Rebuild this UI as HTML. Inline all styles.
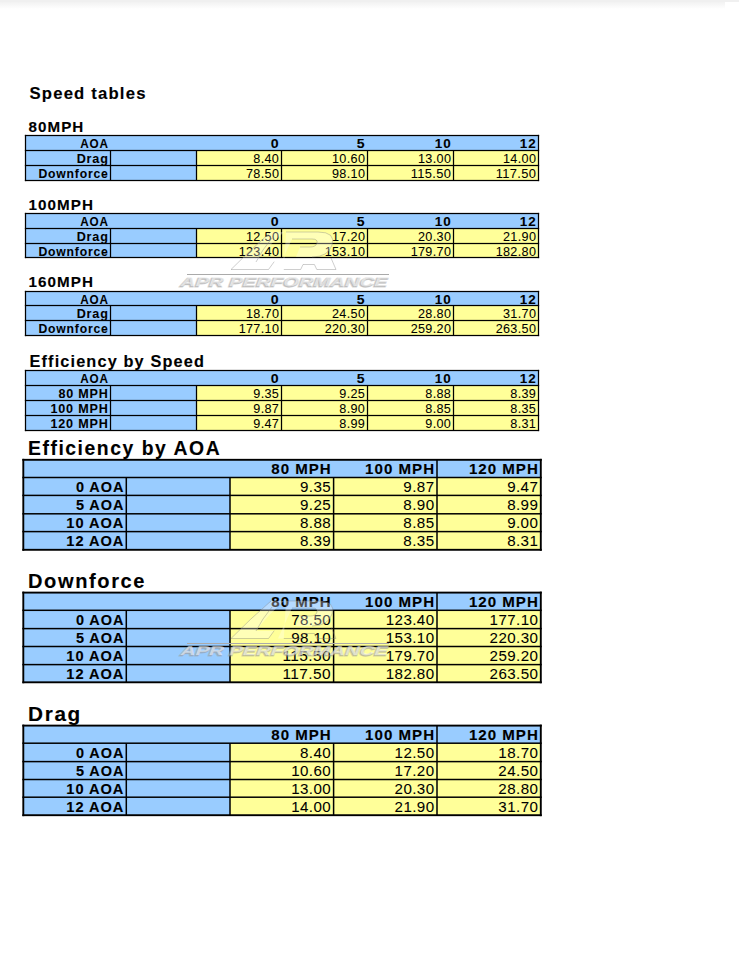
<!DOCTYPE html>
<html><head><meta charset="utf-8"><title>Speed tables</title>
<style>
html,body{margin:0;padding:0;background:#fff;}
body{width:747px;height:957px;overflow:hidden;position:relative;}
#top{position:absolute;left:0;top:2px;width:725px;height:7px;background:linear-gradient(#f2f2f2,#fff);}
#band{position:absolute;left:0;top:0;width:739px;height:2px;background:#f0f0f0;}
svg{position:absolute;left:0;top:0;}
text{font-family:"Liberation Sans",sans-serif;}
</style></head><body>
<div id="band"></div><div id="top"></div>
<svg width="747" height="957" viewBox="0 0 747 957">
<text x="29.50" y="99.40" font-size="15.80" font-weight="bold" letter-spacing="1.11" text-anchor="start" textLength="117.10" lengthAdjust="spacingAndGlyphs" fill="#000" stroke="#000" stroke-width="0.12">Speed tables</text>
<text x="28.60" y="131.60" font-size="14.27" font-weight="bold" letter-spacing="0.97" text-anchor="start" textLength="55.77" lengthAdjust="spacingAndGlyphs" fill="#000" stroke="#000" stroke-width="0.12">80MPH</text>
<text x="28.60" y="209.70" font-size="14.27" font-weight="bold" letter-spacing="0.97" text-anchor="start" textLength="65.40" lengthAdjust="spacingAndGlyphs" fill="#000" stroke="#000" stroke-width="0.12">100MPH</text>
<text x="28.60" y="286.70" font-size="14.27" font-weight="bold" letter-spacing="0.97" text-anchor="start" textLength="65.40" lengthAdjust="spacingAndGlyphs" fill="#000" stroke="#000" stroke-width="0.12">160MPH</text>
<text x="29.50" y="366.60" font-size="15.80" font-weight="bold" letter-spacing="1.11" text-anchor="start" textLength="175.52" lengthAdjust="spacingAndGlyphs" fill="#000" stroke="#000" stroke-width="0.12">Efficiency by Speed</text>
<text x="28.00" y="454.80" font-size="19.30" font-weight="bold" letter-spacing="1.54" text-anchor="start" textLength="193.16" lengthAdjust="spacingAndGlyphs" fill="#000" stroke="#000" stroke-width="0.12">Efficiency by AOA</text>
<text x="28.00" y="587.90" font-size="19.30" font-weight="bold" letter-spacing="1.54" text-anchor="start" textLength="118.10" lengthAdjust="spacingAndGlyphs" fill="#000" stroke="#000" stroke-width="0.12">Downforce</text>
<text x="28.00" y="720.60" font-size="19.30" font-weight="bold" letter-spacing="1.54" text-anchor="start" textLength="53.92" lengthAdjust="spacingAndGlyphs" fill="#000" stroke="#000" stroke-width="0.12">Drag</text>
<rect x="25.50" y="135.50" width="513.00" height="45.00" fill="#99ccff"/>
<rect x="196.50" y="150.50" width="342.00" height="30.00" fill="#ffff99"/>
<rect x="24.88" y="134.88" width="514.25" height="1.25" fill="#000"/>
<rect x="24.88" y="149.88" width="514.25" height="1.25" fill="#000"/>
<rect x="24.88" y="164.88" width="514.25" height="1.25" fill="#000"/>
<rect x="24.88" y="179.88" width="514.25" height="1.25" fill="#000"/>
<rect x="24.88" y="134.88" width="1.25" height="46.25" fill="#000"/>
<rect x="109.88" y="150.50" width="1.25" height="30.00" fill="#000"/>
<rect x="195.88" y="150.50" width="1.25" height="30.00" fill="#000"/>
<rect x="280.88" y="150.50" width="1.25" height="30.00" fill="#000"/>
<rect x="366.88" y="150.50" width="1.25" height="30.00" fill="#000"/>
<rect x="452.88" y="150.50" width="1.25" height="30.00" fill="#000"/>
<rect x="537.88" y="134.88" width="1.25" height="46.25" fill="#000"/>
<text x="108.71" y="147.80" font-size="12.19" font-weight="bold" letter-spacing="0.81" text-anchor="end" textLength="28.38" lengthAdjust="spacingAndGlyphs" fill="#000" stroke="#000" stroke-width="0.05">AOA</text>
<text x="279.70" y="147.80" font-size="12.19" font-weight="bold" letter-spacing="0.81" text-anchor="end" textLength="8.81" lengthAdjust="spacingAndGlyphs" fill="#000" stroke="#000" stroke-width="0.05">0</text>
<text x="365.70" y="147.80" font-size="12.19" font-weight="bold" letter-spacing="0.81" text-anchor="end" textLength="8.81" lengthAdjust="spacingAndGlyphs" fill="#000" stroke="#000" stroke-width="0.05">5</text>
<text x="451.70" y="147.80" font-size="12.19" font-weight="bold" letter-spacing="0.81" text-anchor="end" textLength="16.81" lengthAdjust="spacingAndGlyphs" fill="#000" stroke="#000" stroke-width="0.05">10</text>
<text x="536.70" y="147.80" font-size="12.19" font-weight="bold" letter-spacing="0.81" text-anchor="end" textLength="16.81" lengthAdjust="spacingAndGlyphs" fill="#000" stroke="#000" stroke-width="0.05">12</text>
<text x="108.71" y="162.80" font-size="12.19" font-weight="bold" letter-spacing="0.81" text-anchor="end" textLength="32.01" lengthAdjust="spacingAndGlyphs" fill="#000" stroke="#000" stroke-width="0.05">Drag</text>
<text x="279.25" y="162.80" font-size="12.42" letter-spacing="0.34" text-anchor="end" textLength="25.95" lengthAdjust="spacingAndGlyphs" fill="#000" stroke="#000" stroke-width="0.05">8.40</text>
<text x="365.25" y="162.80" font-size="12.42" letter-spacing="0.34" text-anchor="end" textLength="33.27" lengthAdjust="spacingAndGlyphs" fill="#000" stroke="#000" stroke-width="0.05">10.60</text>
<text x="451.25" y="162.80" font-size="12.42" letter-spacing="0.34" text-anchor="end" textLength="33.27" lengthAdjust="spacingAndGlyphs" fill="#000" stroke="#000" stroke-width="0.05">13.00</text>
<text x="536.25" y="162.80" font-size="12.42" letter-spacing="0.34" text-anchor="end" textLength="33.27" lengthAdjust="spacingAndGlyphs" fill="#000" stroke="#000" stroke-width="0.05">14.00</text>
<text x="108.71" y="177.80" font-size="12.19" font-weight="bold" letter-spacing="0.81" text-anchor="end" textLength="70.25" lengthAdjust="spacingAndGlyphs" fill="#000" stroke="#000" stroke-width="0.05">Downforce</text>
<text x="279.25" y="177.80" font-size="12.42" letter-spacing="0.34" text-anchor="end" textLength="33.27" lengthAdjust="spacingAndGlyphs" fill="#000" stroke="#000" stroke-width="0.05">78.50</text>
<text x="365.25" y="177.80" font-size="12.42" letter-spacing="0.34" text-anchor="end" textLength="33.27" lengthAdjust="spacingAndGlyphs" fill="#000" stroke="#000" stroke-width="0.05">98.10</text>
<text x="451.25" y="177.80" font-size="12.42" letter-spacing="0.34" text-anchor="end" textLength="40.58" lengthAdjust="spacingAndGlyphs" fill="#000" stroke="#000" stroke-width="0.05">115.50</text>
<text x="536.25" y="177.80" font-size="12.42" letter-spacing="0.34" text-anchor="end" textLength="40.58" lengthAdjust="spacingAndGlyphs" fill="#000" stroke="#000" stroke-width="0.05">117.50</text>
<rect x="25.50" y="213.50" width="513.00" height="44.00" fill="#99ccff"/>
<rect x="196.50" y="228.50" width="342.00" height="29.00" fill="#ffff99"/>
<rect x="24.88" y="212.88" width="514.25" height="1.25" fill="#000"/>
<rect x="24.88" y="227.88" width="514.25" height="1.25" fill="#000"/>
<rect x="24.88" y="242.88" width="514.25" height="1.25" fill="#000"/>
<rect x="24.88" y="256.88" width="514.25" height="1.25" fill="#000"/>
<rect x="24.88" y="212.88" width="1.25" height="45.25" fill="#000"/>
<rect x="109.88" y="228.50" width="1.25" height="29.00" fill="#000"/>
<rect x="195.88" y="228.50" width="1.25" height="29.00" fill="#000"/>
<rect x="280.88" y="228.50" width="1.25" height="29.00" fill="#000"/>
<rect x="366.88" y="228.50" width="1.25" height="29.00" fill="#000"/>
<rect x="452.88" y="228.50" width="1.25" height="29.00" fill="#000"/>
<rect x="537.88" y="212.88" width="1.25" height="45.25" fill="#000"/>
<text x="108.71" y="225.80" font-size="12.19" font-weight="bold" letter-spacing="0.81" text-anchor="end" textLength="28.38" lengthAdjust="spacingAndGlyphs" fill="#000" stroke="#000" stroke-width="0.05">AOA</text>
<text x="279.70" y="225.80" font-size="12.19" font-weight="bold" letter-spacing="0.81" text-anchor="end" textLength="8.81" lengthAdjust="spacingAndGlyphs" fill="#000" stroke="#000" stroke-width="0.05">0</text>
<text x="365.70" y="225.80" font-size="12.19" font-weight="bold" letter-spacing="0.81" text-anchor="end" textLength="8.81" lengthAdjust="spacingAndGlyphs" fill="#000" stroke="#000" stroke-width="0.05">5</text>
<text x="451.70" y="225.80" font-size="12.19" font-weight="bold" letter-spacing="0.81" text-anchor="end" textLength="16.81" lengthAdjust="spacingAndGlyphs" fill="#000" stroke="#000" stroke-width="0.05">10</text>
<text x="536.70" y="225.80" font-size="12.19" font-weight="bold" letter-spacing="0.81" text-anchor="end" textLength="16.81" lengthAdjust="spacingAndGlyphs" fill="#000" stroke="#000" stroke-width="0.05">12</text>
<text x="108.71" y="240.80" font-size="12.19" font-weight="bold" letter-spacing="0.81" text-anchor="end" textLength="32.01" lengthAdjust="spacingAndGlyphs" fill="#000" stroke="#000" stroke-width="0.05">Drag</text>
<text x="279.25" y="240.80" font-size="12.42" letter-spacing="0.34" text-anchor="end" textLength="33.27" lengthAdjust="spacingAndGlyphs" fill="#000" stroke="#000" stroke-width="0.05">12.50</text>
<text x="365.25" y="240.80" font-size="12.42" letter-spacing="0.34" text-anchor="end" textLength="33.27" lengthAdjust="spacingAndGlyphs" fill="#000" stroke="#000" stroke-width="0.05">17.20</text>
<text x="451.25" y="240.80" font-size="12.42" letter-spacing="0.34" text-anchor="end" textLength="33.27" lengthAdjust="spacingAndGlyphs" fill="#000" stroke="#000" stroke-width="0.05">20.30</text>
<text x="536.25" y="240.80" font-size="12.42" letter-spacing="0.34" text-anchor="end" textLength="33.27" lengthAdjust="spacingAndGlyphs" fill="#000" stroke="#000" stroke-width="0.05">21.90</text>
<text x="108.71" y="255.80" font-size="12.19" font-weight="bold" letter-spacing="0.81" text-anchor="end" textLength="70.25" lengthAdjust="spacingAndGlyphs" fill="#000" stroke="#000" stroke-width="0.05">Downforce</text>
<text x="279.25" y="255.80" font-size="12.42" letter-spacing="0.34" text-anchor="end" textLength="40.58" lengthAdjust="spacingAndGlyphs" fill="#000" stroke="#000" stroke-width="0.05">123.40</text>
<text x="365.25" y="255.80" font-size="12.42" letter-spacing="0.34" text-anchor="end" textLength="40.58" lengthAdjust="spacingAndGlyphs" fill="#000" stroke="#000" stroke-width="0.05">153.10</text>
<text x="451.25" y="255.80" font-size="12.42" letter-spacing="0.34" text-anchor="end" textLength="40.58" lengthAdjust="spacingAndGlyphs" fill="#000" stroke="#000" stroke-width="0.05">179.70</text>
<text x="536.25" y="255.80" font-size="12.42" letter-spacing="0.34" text-anchor="end" textLength="40.58" lengthAdjust="spacingAndGlyphs" fill="#000" stroke="#000" stroke-width="0.05">182.80</text>
<rect x="25.50" y="291.50" width="513.00" height="44.00" fill="#99ccff"/>
<rect x="196.50" y="305.50" width="342.00" height="30.00" fill="#ffff99"/>
<rect x="24.88" y="290.88" width="514.25" height="1.25" fill="#000"/>
<rect x="24.88" y="304.88" width="514.25" height="1.25" fill="#000"/>
<rect x="24.88" y="319.88" width="514.25" height="1.25" fill="#000"/>
<rect x="24.88" y="334.88" width="514.25" height="1.25" fill="#000"/>
<rect x="24.88" y="290.88" width="1.25" height="45.25" fill="#000"/>
<rect x="109.88" y="305.50" width="1.25" height="30.00" fill="#000"/>
<rect x="195.88" y="305.50" width="1.25" height="30.00" fill="#000"/>
<rect x="280.88" y="305.50" width="1.25" height="30.00" fill="#000"/>
<rect x="366.88" y="305.50" width="1.25" height="30.00" fill="#000"/>
<rect x="452.88" y="305.50" width="1.25" height="30.00" fill="#000"/>
<rect x="537.88" y="290.88" width="1.25" height="45.25" fill="#000"/>
<text x="108.71" y="303.80" font-size="12.19" font-weight="bold" letter-spacing="0.81" text-anchor="end" textLength="28.38" lengthAdjust="spacingAndGlyphs" fill="#000" stroke="#000" stroke-width="0.05">AOA</text>
<text x="279.70" y="303.80" font-size="12.19" font-weight="bold" letter-spacing="0.81" text-anchor="end" textLength="8.81" lengthAdjust="spacingAndGlyphs" fill="#000" stroke="#000" stroke-width="0.05">0</text>
<text x="365.70" y="303.80" font-size="12.19" font-weight="bold" letter-spacing="0.81" text-anchor="end" textLength="8.81" lengthAdjust="spacingAndGlyphs" fill="#000" stroke="#000" stroke-width="0.05">5</text>
<text x="451.70" y="303.80" font-size="12.19" font-weight="bold" letter-spacing="0.81" text-anchor="end" textLength="16.81" lengthAdjust="spacingAndGlyphs" fill="#000" stroke="#000" stroke-width="0.05">10</text>
<text x="536.70" y="303.80" font-size="12.19" font-weight="bold" letter-spacing="0.81" text-anchor="end" textLength="16.81" lengthAdjust="spacingAndGlyphs" fill="#000" stroke="#000" stroke-width="0.05">12</text>
<text x="108.71" y="317.80" font-size="12.19" font-weight="bold" letter-spacing="0.81" text-anchor="end" textLength="32.01" lengthAdjust="spacingAndGlyphs" fill="#000" stroke="#000" stroke-width="0.05">Drag</text>
<text x="279.25" y="317.80" font-size="12.42" letter-spacing="0.34" text-anchor="end" textLength="33.27" lengthAdjust="spacingAndGlyphs" fill="#000" stroke="#000" stroke-width="0.05">18.70</text>
<text x="365.25" y="317.80" font-size="12.42" letter-spacing="0.34" text-anchor="end" textLength="33.27" lengthAdjust="spacingAndGlyphs" fill="#000" stroke="#000" stroke-width="0.05">24.50</text>
<text x="451.25" y="317.80" font-size="12.42" letter-spacing="0.34" text-anchor="end" textLength="33.27" lengthAdjust="spacingAndGlyphs" fill="#000" stroke="#000" stroke-width="0.05">28.80</text>
<text x="536.25" y="317.80" font-size="12.42" letter-spacing="0.34" text-anchor="end" textLength="33.27" lengthAdjust="spacingAndGlyphs" fill="#000" stroke="#000" stroke-width="0.05">31.70</text>
<text x="108.71" y="332.80" font-size="12.19" font-weight="bold" letter-spacing="0.81" text-anchor="end" textLength="70.25" lengthAdjust="spacingAndGlyphs" fill="#000" stroke="#000" stroke-width="0.05">Downforce</text>
<text x="279.25" y="332.80" font-size="12.42" letter-spacing="0.34" text-anchor="end" textLength="40.58" lengthAdjust="spacingAndGlyphs" fill="#000" stroke="#000" stroke-width="0.05">177.10</text>
<text x="365.25" y="332.80" font-size="12.42" letter-spacing="0.34" text-anchor="end" textLength="40.58" lengthAdjust="spacingAndGlyphs" fill="#000" stroke="#000" stroke-width="0.05">220.30</text>
<text x="451.25" y="332.80" font-size="12.42" letter-spacing="0.34" text-anchor="end" textLength="40.58" lengthAdjust="spacingAndGlyphs" fill="#000" stroke="#000" stroke-width="0.05">259.20</text>
<text x="536.25" y="332.80" font-size="12.42" letter-spacing="0.34" text-anchor="end" textLength="40.58" lengthAdjust="spacingAndGlyphs" fill="#000" stroke="#000" stroke-width="0.05">263.50</text>
<rect x="25.50" y="370.50" width="513.00" height="60.00" fill="#99ccff"/>
<rect x="196.50" y="385.50" width="342.00" height="45.00" fill="#ffff99"/>
<rect x="24.88" y="369.88" width="514.25" height="1.25" fill="#000"/>
<rect x="24.88" y="384.88" width="514.25" height="1.25" fill="#000"/>
<rect x="24.88" y="399.88" width="514.25" height="1.25" fill="#000"/>
<rect x="24.88" y="414.88" width="514.25" height="1.25" fill="#000"/>
<rect x="24.88" y="429.88" width="514.25" height="1.25" fill="#000"/>
<rect x="24.88" y="369.88" width="1.25" height="61.25" fill="#000"/>
<rect x="109.88" y="385.50" width="1.25" height="45.00" fill="#000"/>
<rect x="195.88" y="385.50" width="1.25" height="45.00" fill="#000"/>
<rect x="280.88" y="385.50" width="1.25" height="45.00" fill="#000"/>
<rect x="366.88" y="385.50" width="1.25" height="45.00" fill="#000"/>
<rect x="452.88" y="385.50" width="1.25" height="45.00" fill="#000"/>
<rect x="537.88" y="369.88" width="1.25" height="61.25" fill="#000"/>
<text x="108.71" y="382.80" font-size="12.19" font-weight="bold" letter-spacing="0.81" text-anchor="end" textLength="28.38" lengthAdjust="spacingAndGlyphs" fill="#000" stroke="#000" stroke-width="0.05">AOA</text>
<text x="279.70" y="382.80" font-size="12.19" font-weight="bold" letter-spacing="0.81" text-anchor="end" textLength="8.81" lengthAdjust="spacingAndGlyphs" fill="#000" stroke="#000" stroke-width="0.05">0</text>
<text x="365.70" y="382.80" font-size="12.19" font-weight="bold" letter-spacing="0.81" text-anchor="end" textLength="8.81" lengthAdjust="spacingAndGlyphs" fill="#000" stroke="#000" stroke-width="0.05">5</text>
<text x="451.70" y="382.80" font-size="12.19" font-weight="bold" letter-spacing="0.81" text-anchor="end" textLength="16.81" lengthAdjust="spacingAndGlyphs" fill="#000" stroke="#000" stroke-width="0.05">10</text>
<text x="536.70" y="382.80" font-size="12.19" font-weight="bold" letter-spacing="0.81" text-anchor="end" textLength="16.81" lengthAdjust="spacingAndGlyphs" fill="#000" stroke="#000" stroke-width="0.05">12</text>
<text x="108.71" y="397.80" font-size="12.19" font-weight="bold" letter-spacing="0.81" text-anchor="end" textLength="50.31" lengthAdjust="spacingAndGlyphs" fill="#000" stroke="#000" stroke-width="0.05">80 MPH</text>
<text x="279.25" y="397.80" font-size="12.42" letter-spacing="0.34" text-anchor="end" textLength="25.95" lengthAdjust="spacingAndGlyphs" fill="#000" stroke="#000" stroke-width="0.05">9.35</text>
<text x="365.25" y="397.80" font-size="12.42" letter-spacing="0.34" text-anchor="end" textLength="25.95" lengthAdjust="spacingAndGlyphs" fill="#000" stroke="#000" stroke-width="0.05">9.25</text>
<text x="451.25" y="397.80" font-size="12.42" letter-spacing="0.34" text-anchor="end" textLength="25.95" lengthAdjust="spacingAndGlyphs" fill="#000" stroke="#000" stroke-width="0.05">8.88</text>
<text x="536.25" y="397.80" font-size="12.42" letter-spacing="0.34" text-anchor="end" textLength="25.95" lengthAdjust="spacingAndGlyphs" fill="#000" stroke="#000" stroke-width="0.05">8.39</text>
<text x="108.71" y="412.80" font-size="12.19" font-weight="bold" letter-spacing="0.81" text-anchor="end" textLength="58.31" lengthAdjust="spacingAndGlyphs" fill="#000" stroke="#000" stroke-width="0.05">100 MPH</text>
<text x="279.25" y="412.80" font-size="12.42" letter-spacing="0.34" text-anchor="end" textLength="25.95" lengthAdjust="spacingAndGlyphs" fill="#000" stroke="#000" stroke-width="0.05">9.87</text>
<text x="365.25" y="412.80" font-size="12.42" letter-spacing="0.34" text-anchor="end" textLength="25.95" lengthAdjust="spacingAndGlyphs" fill="#000" stroke="#000" stroke-width="0.05">8.90</text>
<text x="451.25" y="412.80" font-size="12.42" letter-spacing="0.34" text-anchor="end" textLength="25.95" lengthAdjust="spacingAndGlyphs" fill="#000" stroke="#000" stroke-width="0.05">8.85</text>
<text x="536.25" y="412.80" font-size="12.42" letter-spacing="0.34" text-anchor="end" textLength="25.95" lengthAdjust="spacingAndGlyphs" fill="#000" stroke="#000" stroke-width="0.05">8.35</text>
<text x="108.71" y="427.80" font-size="12.19" font-weight="bold" letter-spacing="0.81" text-anchor="end" textLength="58.31" lengthAdjust="spacingAndGlyphs" fill="#000" stroke="#000" stroke-width="0.05">120 MPH</text>
<text x="279.25" y="427.80" font-size="12.42" letter-spacing="0.34" text-anchor="end" textLength="25.95" lengthAdjust="spacingAndGlyphs" fill="#000" stroke="#000" stroke-width="0.05">9.47</text>
<text x="365.25" y="427.80" font-size="12.42" letter-spacing="0.34" text-anchor="end" textLength="25.95" lengthAdjust="spacingAndGlyphs" fill="#000" stroke="#000" stroke-width="0.05">8.99</text>
<text x="451.25" y="427.80" font-size="12.42" letter-spacing="0.34" text-anchor="end" textLength="25.95" lengthAdjust="spacingAndGlyphs" fill="#000" stroke="#000" stroke-width="0.05">9.00</text>
<text x="536.25" y="427.80" font-size="12.42" letter-spacing="0.34" text-anchor="end" textLength="25.95" lengthAdjust="spacingAndGlyphs" fill="#000" stroke="#000" stroke-width="0.05">8.31</text>
<rect x="23.30" y="459.80" width="517.50" height="90.00" fill="#99ccff"/>
<rect x="230.00" y="477.50" width="310.80" height="72.30" fill="#ffff99"/>
<rect x="22.35" y="458.85" width="519.40" height="1.90" fill="#000"/>
<rect x="22.35" y="476.75" width="519.40" height="1.50" fill="#000"/>
<rect x="22.35" y="494.65" width="519.40" height="1.50" fill="#000"/>
<rect x="22.35" y="513.05" width="519.40" height="1.50" fill="#000"/>
<rect x="22.35" y="530.85" width="519.40" height="1.50" fill="#000"/>
<rect x="22.35" y="548.85" width="519.40" height="1.90" fill="#000"/>
<rect x="22.35" y="458.85" width="1.90" height="91.90" fill="#000"/>
<rect x="125.55" y="477.50" width="1.50" height="72.30" fill="#000"/>
<rect x="229.25" y="477.50" width="1.50" height="72.30" fill="#000"/>
<rect x="332.85" y="477.50" width="1.50" height="72.30" fill="#000"/>
<rect x="436.25" y="477.50" width="1.50" height="72.30" fill="#000"/>
<rect x="436.25" y="459.80" width="1.50" height="17.70" fill="#000"/>
<rect x="539.85" y="458.85" width="1.90" height="91.90" fill="#000"/>
<text x="331.67" y="474.20" font-size="14.63" font-weight="bold" letter-spacing="0.97" text-anchor="end" textLength="60.37" lengthAdjust="spacingAndGlyphs" fill="#000" stroke="#000" stroke-width="0.12">80 MPH</text>
<text x="435.07" y="474.20" font-size="14.63" font-weight="bold" letter-spacing="0.97" text-anchor="end" textLength="69.97" lengthAdjust="spacingAndGlyphs" fill="#000" stroke="#000" stroke-width="0.12">100 MPH</text>
<text x="538.87" y="474.20" font-size="14.63" font-weight="bold" letter-spacing="0.97" text-anchor="end" textLength="69.97" lengthAdjust="spacingAndGlyphs" fill="#000" stroke="#000" stroke-width="0.12">120 MPH</text>
<text x="124.37" y="491.90" font-size="14.63" font-weight="bold" letter-spacing="0.97" text-anchor="end" textLength="48.46" lengthAdjust="spacingAndGlyphs" fill="#000" stroke="#000" stroke-width="0.12">0 AOA</text>
<text x="331.11" y="491.90" font-size="14.90" letter-spacing="0.41" text-anchor="end" textLength="31.14" lengthAdjust="spacingAndGlyphs" fill="#000" stroke="#000" stroke-width="0.05">9.35</text>
<text x="434.51" y="491.90" font-size="14.90" letter-spacing="0.41" text-anchor="end" textLength="31.14" lengthAdjust="spacingAndGlyphs" fill="#000" stroke="#000" stroke-width="0.05">9.87</text>
<text x="538.31" y="491.90" font-size="14.90" letter-spacing="0.41" text-anchor="end" textLength="31.14" lengthAdjust="spacingAndGlyphs" fill="#000" stroke="#000" stroke-width="0.05">9.47</text>
<text x="124.37" y="509.80" font-size="14.63" font-weight="bold" letter-spacing="0.97" text-anchor="end" textLength="48.46" lengthAdjust="spacingAndGlyphs" fill="#000" stroke="#000" stroke-width="0.12">5 AOA</text>
<text x="331.11" y="509.80" font-size="14.90" letter-spacing="0.41" text-anchor="end" textLength="31.14" lengthAdjust="spacingAndGlyphs" fill="#000" stroke="#000" stroke-width="0.05">9.25</text>
<text x="434.51" y="509.80" font-size="14.90" letter-spacing="0.41" text-anchor="end" textLength="31.14" lengthAdjust="spacingAndGlyphs" fill="#000" stroke="#000" stroke-width="0.05">8.90</text>
<text x="538.31" y="509.80" font-size="14.90" letter-spacing="0.41" text-anchor="end" textLength="31.14" lengthAdjust="spacingAndGlyphs" fill="#000" stroke="#000" stroke-width="0.05">8.99</text>
<text x="124.37" y="528.20" font-size="14.63" font-weight="bold" letter-spacing="0.97" text-anchor="end" textLength="58.07" lengthAdjust="spacingAndGlyphs" fill="#000" stroke="#000" stroke-width="0.12">10 AOA</text>
<text x="331.11" y="528.20" font-size="14.90" letter-spacing="0.41" text-anchor="end" textLength="31.14" lengthAdjust="spacingAndGlyphs" fill="#000" stroke="#000" stroke-width="0.05">8.88</text>
<text x="434.51" y="528.20" font-size="14.90" letter-spacing="0.41" text-anchor="end" textLength="31.14" lengthAdjust="spacingAndGlyphs" fill="#000" stroke="#000" stroke-width="0.05">8.85</text>
<text x="538.31" y="528.20" font-size="14.90" letter-spacing="0.41" text-anchor="end" textLength="31.14" lengthAdjust="spacingAndGlyphs" fill="#000" stroke="#000" stroke-width="0.05">9.00</text>
<text x="124.37" y="546.00" font-size="14.63" font-weight="bold" letter-spacing="0.97" text-anchor="end" textLength="58.07" lengthAdjust="spacingAndGlyphs" fill="#000" stroke="#000" stroke-width="0.12">12 AOA</text>
<text x="331.11" y="546.00" font-size="14.90" letter-spacing="0.41" text-anchor="end" textLength="31.14" lengthAdjust="spacingAndGlyphs" fill="#000" stroke="#000" stroke-width="0.05">8.39</text>
<text x="434.51" y="546.00" font-size="14.90" letter-spacing="0.41" text-anchor="end" textLength="31.14" lengthAdjust="spacingAndGlyphs" fill="#000" stroke="#000" stroke-width="0.05">8.35</text>
<text x="538.31" y="546.00" font-size="14.90" letter-spacing="0.41" text-anchor="end" textLength="31.14" lengthAdjust="spacingAndGlyphs" fill="#000" stroke="#000" stroke-width="0.05">8.31</text>
<rect x="23.30" y="592.60" width="517.50" height="89.70" fill="#99ccff"/>
<rect x="230.00" y="610.30" width="310.80" height="72.00" fill="#ffff99"/>
<rect x="22.35" y="591.65" width="519.40" height="1.90" fill="#000"/>
<rect x="22.35" y="609.55" width="519.40" height="1.50" fill="#000"/>
<rect x="22.35" y="627.85" width="519.40" height="1.50" fill="#000"/>
<rect x="22.35" y="645.75" width="519.40" height="1.50" fill="#000"/>
<rect x="22.35" y="663.85" width="519.40" height="1.50" fill="#000"/>
<rect x="22.35" y="681.35" width="519.40" height="1.90" fill="#000"/>
<rect x="22.35" y="591.65" width="1.90" height="91.60" fill="#000"/>
<rect x="125.55" y="610.30" width="1.50" height="72.00" fill="#000"/>
<rect x="229.25" y="610.30" width="1.50" height="72.00" fill="#000"/>
<rect x="332.85" y="610.30" width="1.50" height="72.00" fill="#000"/>
<rect x="436.25" y="610.30" width="1.50" height="72.00" fill="#000"/>
<rect x="436.25" y="592.60" width="1.50" height="17.70" fill="#000"/>
<rect x="539.85" y="591.65" width="1.90" height="91.60" fill="#000"/>
<text x="331.67" y="607.00" font-size="14.63" font-weight="bold" letter-spacing="0.97" text-anchor="end" textLength="60.37" lengthAdjust="spacingAndGlyphs" fill="#000" stroke="#000" stroke-width="0.12">80 MPH</text>
<text x="435.07" y="607.00" font-size="14.63" font-weight="bold" letter-spacing="0.97" text-anchor="end" textLength="69.97" lengthAdjust="spacingAndGlyphs" fill="#000" stroke="#000" stroke-width="0.12">100 MPH</text>
<text x="538.87" y="607.00" font-size="14.63" font-weight="bold" letter-spacing="0.97" text-anchor="end" textLength="69.97" lengthAdjust="spacingAndGlyphs" fill="#000" stroke="#000" stroke-width="0.12">120 MPH</text>
<text x="124.37" y="624.70" font-size="14.63" font-weight="bold" letter-spacing="0.97" text-anchor="end" textLength="48.46" lengthAdjust="spacingAndGlyphs" fill="#000" stroke="#000" stroke-width="0.12">0 AOA</text>
<text x="331.11" y="624.70" font-size="14.90" letter-spacing="0.41" text-anchor="end" textLength="39.92" lengthAdjust="spacingAndGlyphs" fill="#000" stroke="#000" stroke-width="0.05">78.50</text>
<text x="434.51" y="624.70" font-size="14.90" letter-spacing="0.41" text-anchor="end" textLength="48.70" lengthAdjust="spacingAndGlyphs" fill="#000" stroke="#000" stroke-width="0.05">123.40</text>
<text x="538.31" y="624.70" font-size="14.90" letter-spacing="0.41" text-anchor="end" textLength="48.70" lengthAdjust="spacingAndGlyphs" fill="#000" stroke="#000" stroke-width="0.05">177.10</text>
<text x="124.37" y="643.00" font-size="14.63" font-weight="bold" letter-spacing="0.97" text-anchor="end" textLength="48.46" lengthAdjust="spacingAndGlyphs" fill="#000" stroke="#000" stroke-width="0.12">5 AOA</text>
<text x="331.11" y="643.00" font-size="14.90" letter-spacing="0.41" text-anchor="end" textLength="39.92" lengthAdjust="spacingAndGlyphs" fill="#000" stroke="#000" stroke-width="0.05">98.10</text>
<text x="434.51" y="643.00" font-size="14.90" letter-spacing="0.41" text-anchor="end" textLength="48.70" lengthAdjust="spacingAndGlyphs" fill="#000" stroke="#000" stroke-width="0.05">153.10</text>
<text x="538.31" y="643.00" font-size="14.90" letter-spacing="0.41" text-anchor="end" textLength="48.70" lengthAdjust="spacingAndGlyphs" fill="#000" stroke="#000" stroke-width="0.05">220.30</text>
<text x="124.37" y="660.90" font-size="14.63" font-weight="bold" letter-spacing="0.97" text-anchor="end" textLength="58.07" lengthAdjust="spacingAndGlyphs" fill="#000" stroke="#000" stroke-width="0.12">10 AOA</text>
<text x="331.11" y="660.90" font-size="14.90" letter-spacing="0.41" text-anchor="end" textLength="48.70" lengthAdjust="spacingAndGlyphs" fill="#000" stroke="#000" stroke-width="0.05">115.50</text>
<text x="434.51" y="660.90" font-size="14.90" letter-spacing="0.41" text-anchor="end" textLength="48.70" lengthAdjust="spacingAndGlyphs" fill="#000" stroke="#000" stroke-width="0.05">179.70</text>
<text x="538.31" y="660.90" font-size="14.90" letter-spacing="0.41" text-anchor="end" textLength="48.70" lengthAdjust="spacingAndGlyphs" fill="#000" stroke="#000" stroke-width="0.05">259.20</text>
<text x="124.37" y="679.00" font-size="14.63" font-weight="bold" letter-spacing="0.97" text-anchor="end" textLength="58.07" lengthAdjust="spacingAndGlyphs" fill="#000" stroke="#000" stroke-width="0.12">12 AOA</text>
<text x="331.11" y="679.00" font-size="14.90" letter-spacing="0.41" text-anchor="end" textLength="48.70" lengthAdjust="spacingAndGlyphs" fill="#000" stroke="#000" stroke-width="0.05">117.50</text>
<text x="434.51" y="679.00" font-size="14.90" letter-spacing="0.41" text-anchor="end" textLength="48.70" lengthAdjust="spacingAndGlyphs" fill="#000" stroke="#000" stroke-width="0.05">182.80</text>
<text x="538.31" y="679.00" font-size="14.90" letter-spacing="0.41" text-anchor="end" textLength="48.70" lengthAdjust="spacingAndGlyphs" fill="#000" stroke="#000" stroke-width="0.05">263.50</text>
<rect x="23.30" y="725.60" width="517.50" height="89.60" fill="#99ccff"/>
<rect x="230.00" y="743.20" width="310.80" height="72.00" fill="#ffff99"/>
<rect x="22.35" y="724.65" width="519.40" height="1.90" fill="#000"/>
<rect x="22.35" y="742.45" width="519.40" height="1.50" fill="#000"/>
<rect x="22.35" y="760.85" width="519.40" height="1.50" fill="#000"/>
<rect x="22.35" y="778.75" width="519.40" height="1.50" fill="#000"/>
<rect x="22.35" y="796.45" width="519.40" height="1.50" fill="#000"/>
<rect x="22.35" y="814.25" width="519.40" height="1.90" fill="#000"/>
<rect x="22.35" y="724.65" width="1.90" height="91.50" fill="#000"/>
<rect x="125.55" y="743.20" width="1.50" height="72.00" fill="#000"/>
<rect x="229.25" y="743.20" width="1.50" height="72.00" fill="#000"/>
<rect x="332.85" y="743.20" width="1.50" height="72.00" fill="#000"/>
<rect x="436.25" y="743.20" width="1.50" height="72.00" fill="#000"/>
<rect x="436.25" y="725.60" width="1.50" height="17.60" fill="#000"/>
<rect x="539.85" y="724.65" width="1.90" height="91.50" fill="#000"/>
<text x="331.67" y="740.00" font-size="14.63" font-weight="bold" letter-spacing="0.97" text-anchor="end" textLength="60.37" lengthAdjust="spacingAndGlyphs" fill="#000" stroke="#000" stroke-width="0.12">80 MPH</text>
<text x="435.07" y="740.00" font-size="14.63" font-weight="bold" letter-spacing="0.97" text-anchor="end" textLength="69.97" lengthAdjust="spacingAndGlyphs" fill="#000" stroke="#000" stroke-width="0.12">100 MPH</text>
<text x="538.87" y="740.00" font-size="14.63" font-weight="bold" letter-spacing="0.97" text-anchor="end" textLength="69.97" lengthAdjust="spacingAndGlyphs" fill="#000" stroke="#000" stroke-width="0.12">120 MPH</text>
<text x="124.37" y="757.60" font-size="14.63" font-weight="bold" letter-spacing="0.97" text-anchor="end" textLength="48.46" lengthAdjust="spacingAndGlyphs" fill="#000" stroke="#000" stroke-width="0.12">0 AOA</text>
<text x="331.11" y="757.60" font-size="14.90" letter-spacing="0.41" text-anchor="end" textLength="31.14" lengthAdjust="spacingAndGlyphs" fill="#000" stroke="#000" stroke-width="0.05">8.40</text>
<text x="434.51" y="757.60" font-size="14.90" letter-spacing="0.41" text-anchor="end" textLength="39.92" lengthAdjust="spacingAndGlyphs" fill="#000" stroke="#000" stroke-width="0.05">12.50</text>
<text x="538.31" y="757.60" font-size="14.90" letter-spacing="0.41" text-anchor="end" textLength="39.92" lengthAdjust="spacingAndGlyphs" fill="#000" stroke="#000" stroke-width="0.05">18.70</text>
<text x="124.37" y="776.00" font-size="14.63" font-weight="bold" letter-spacing="0.97" text-anchor="end" textLength="48.46" lengthAdjust="spacingAndGlyphs" fill="#000" stroke="#000" stroke-width="0.12">5 AOA</text>
<text x="331.11" y="776.00" font-size="14.90" letter-spacing="0.41" text-anchor="end" textLength="39.92" lengthAdjust="spacingAndGlyphs" fill="#000" stroke="#000" stroke-width="0.05">10.60</text>
<text x="434.51" y="776.00" font-size="14.90" letter-spacing="0.41" text-anchor="end" textLength="39.92" lengthAdjust="spacingAndGlyphs" fill="#000" stroke="#000" stroke-width="0.05">17.20</text>
<text x="538.31" y="776.00" font-size="14.90" letter-spacing="0.41" text-anchor="end" textLength="39.92" lengthAdjust="spacingAndGlyphs" fill="#000" stroke="#000" stroke-width="0.05">24.50</text>
<text x="124.37" y="793.90" font-size="14.63" font-weight="bold" letter-spacing="0.97" text-anchor="end" textLength="58.07" lengthAdjust="spacingAndGlyphs" fill="#000" stroke="#000" stroke-width="0.12">10 AOA</text>
<text x="331.11" y="793.90" font-size="14.90" letter-spacing="0.41" text-anchor="end" textLength="39.92" lengthAdjust="spacingAndGlyphs" fill="#000" stroke="#000" stroke-width="0.05">13.00</text>
<text x="434.51" y="793.90" font-size="14.90" letter-spacing="0.41" text-anchor="end" textLength="39.92" lengthAdjust="spacingAndGlyphs" fill="#000" stroke="#000" stroke-width="0.05">20.30</text>
<text x="538.31" y="793.90" font-size="14.90" letter-spacing="0.41" text-anchor="end" textLength="39.92" lengthAdjust="spacingAndGlyphs" fill="#000" stroke="#000" stroke-width="0.05">28.80</text>
<text x="124.37" y="811.60" font-size="14.63" font-weight="bold" letter-spacing="0.97" text-anchor="end" textLength="58.07" lengthAdjust="spacingAndGlyphs" fill="#000" stroke="#000" stroke-width="0.12">12 AOA</text>
<text x="331.11" y="811.60" font-size="14.90" letter-spacing="0.41" text-anchor="end" textLength="39.92" lengthAdjust="spacingAndGlyphs" fill="#000" stroke="#000" stroke-width="0.05">14.00</text>
<text x="434.51" y="811.60" font-size="14.90" letter-spacing="0.41" text-anchor="end" textLength="39.92" lengthAdjust="spacingAndGlyphs" fill="#000" stroke="#000" stroke-width="0.05">21.90</text>
<text x="538.31" y="811.60" font-size="14.90" letter-spacing="0.41" text-anchor="end" textLength="39.92" lengthAdjust="spacingAndGlyphs" fill="#000" stroke="#000" stroke-width="0.05">31.70</text>
<g transform="translate(0,0)">
<path d="M231,269.5 Q250,250 271,232 L284,232 Q268,246 256,262 L268.5,262 L274,262 L268.5,269.5 Z" fill="#fff" fill-opacity="0.3"/>
<path d="M231,269.5 Q250,250 271,232 M256,262 Q262,250 272,238 M231,269.5 L268.5,269.5 L274.2,261.7" fill="none" stroke="#777" stroke-opacity="0.4" stroke-width="0.9"/>
<path d="M286,232 L318,232 Q336,232 332,245 Q328,257 312,257 L296,257 L300,247 L310,247 Q316,247 317,243 Q318,239 312,239 L292,239 L278,269.5 L283.8,269.5 Z" fill="#fff" fill-opacity="0.3"/>
<path d="M286,232 L318,232 Q336,232 332,245 Q328,257 312,257 M292,239 L312,239 Q318,239 317,243 Q316,247 310,247 L300,247 M283.8,269.5 L300.7,269.5 L303,264.5 L314.4,264.5 L316.8,269.5 L336,269.5 L331,258" fill="none" stroke="#777" stroke-opacity="0.4" stroke-width="0.9"/>
<line x1="187" y1="274.5" x2="389" y2="274.5" stroke="#aaa" stroke-width="1"/>
<g transform="translate(102.6,0) skewX(-20)">
<text x="180.6" y="286.8" font-size="13" font-weight="bold" textLength="207" lengthAdjust="spacingAndGlyphs" fill="#999" fill-opacity="0.45" stroke="#999" stroke-opacity="0.4" stroke-width="1.2" stroke-linejoin="round">APR PERFORMANCE</text>
<text x="181.4" y="286.2" font-size="13" font-weight="bold" textLength="207" lengthAdjust="spacingAndGlyphs" fill="#fff" fill-opacity="0.5">APR PERFORMANCE</text>
</g>
</g>
<g transform="translate(0,369)">
<path d="M231,269.5 Q250,250 271,232 L284,232 Q268,246 256,262 L268.5,262 L274,262 L268.5,269.5 Z" fill="#fff" fill-opacity="0.3"/>
<path d="M231,269.5 Q250,250 271,232 M256,262 Q262,250 272,238 M231,269.5 L268.5,269.5 L274.2,261.7" fill="none" stroke="#777" stroke-opacity="0.4" stroke-width="0.9"/>
<path d="M286,232 L318,232 Q336,232 332,245 Q328,257 312,257 L296,257 L300,247 L310,247 Q316,247 317,243 Q318,239 312,239 L292,239 L278,269.5 L283.8,269.5 Z" fill="#fff" fill-opacity="0.3"/>
<path d="M286,232 L318,232 Q336,232 332,245 Q328,257 312,257 M292,239 L312,239 Q318,239 317,243 Q316,247 310,247 L300,247 M283.8,269.5 L300.7,269.5 L303,264.5 L314.4,264.5 L316.8,269.5 L336,269.5 L331,258" fill="none" stroke="#777" stroke-opacity="0.4" stroke-width="0.9"/>
<line x1="187" y1="274.5" x2="389" y2="274.5" stroke="#aaa" stroke-width="1"/>
<g transform="translate(102.6,0) skewX(-20)">
<text x="180.6" y="286.8" font-size="13" font-weight="bold" textLength="207" lengthAdjust="spacingAndGlyphs" fill="#999" fill-opacity="0.45" stroke="#999" stroke-opacity="0.4" stroke-width="1.2" stroke-linejoin="round">APR PERFORMANCE</text>
<text x="181.4" y="286.2" font-size="13" font-weight="bold" textLength="207" lengthAdjust="spacingAndGlyphs" fill="#fff" fill-opacity="0.5">APR PERFORMANCE</text>
</g>
</g>
</svg>
</body></html>
